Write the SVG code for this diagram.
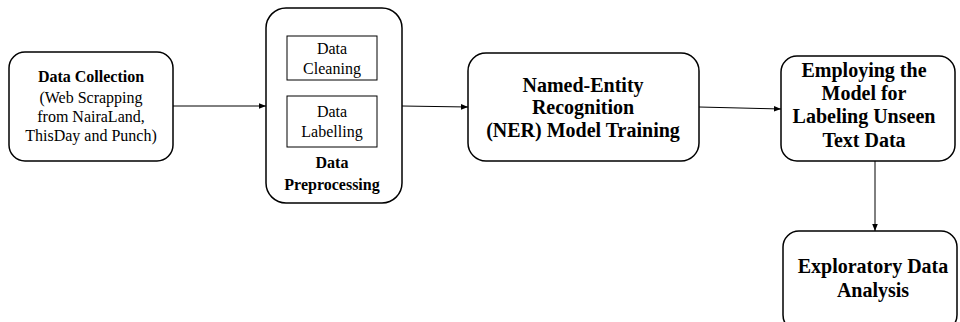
<svg xmlns="http://www.w3.org/2000/svg" width="960" height="322" viewBox="0 0 960 322">
<style>
.box{fill:#fff;stroke:#000;stroke-width:1.5}
.inner{fill:#fff;stroke:#000;stroke-width:1}
.t{font-family:"Liberation Serif","Times New Roman",serif;text-anchor:middle;fill:#000}
.s{font-size:16px}
.b{font-weight:bold}
.l{font-size:20px;font-weight:bold}
.c{stroke:#000;stroke-width:1;fill:none}
</style>
<defs>
<marker id="ah" viewBox="0 0 10 10" refX="10" refY="5" markerWidth="7" markerHeight="7" orient="auto" markerUnits="userSpaceOnUse">
<path d="M0,1 L10,5 L0,9 Z" fill="#000"/>
</marker>
</defs>
<rect width="960" height="322" fill="#fff"/>
<g id="connectors">
<line class="c" x1="173" y1="106" x2="266" y2="106" marker-end="url(#ah)"/>
<line class="c" x1="402" y1="106" x2="468" y2="107" marker-end="url(#ah)"/>
<line class="c" x1="699" y1="107" x2="781" y2="109" marker-end="url(#ah)"/>
<line class="c" x1="875" y1="161" x2="875" y2="231" stroke="#666" marker-end="url(#ah)"/>
</g>
<g id="data-collection">
<rect class="box" x="9" y="52" width="164" height="109" rx="16"/>
<text class="t s b" x="91" y="82">Data Collection</text>
<text class="t s" x="91" y="103">(Web Scrapping</text>
<text class="t s" x="91" y="122">from NairaLand,</text>
<text class="t s" x="91" y="141">ThisDay and Punch)</text>
</g>
<g id="data-preprocessing">
<rect class="box" x="266" y="8" width="136" height="195" rx="20"/>
<text class="t s b" x="332" y="168">Data</text>
<text class="t s b" x="332" y="190">Preprocessing</text>
</g>
<g id="data-cleaning">
<rect class="inner" x="287" y="36" width="90" height="44"/>
<text class="t s" x="332" y="54">Data</text>
<text class="t s" x="332" y="74">Cleaning</text>
</g>
<g id="data-labelling">
<rect class="inner" x="287" y="96" width="90" height="51"/>
<text class="t s" x="332" y="117">Data</text>
<text class="t s" x="332" y="137">Labelling</text>
</g>
<g id="ner-training">
<rect class="box" x="468" y="53" width="231" height="108" rx="18"/>
<text class="t l" x="583" y="92">Named-Entity</text>
<text class="t l" x="583" y="114">Recognition</text>
<text class="t l" x="583" y="137">(NER) Model Training</text>
</g>
<g id="employing-model">
<rect class="box" x="781" y="56" width="174" height="105" rx="16"/>
<text class="t l" x="864" y="77">Employing the</text>
<text class="t l" x="864" y="100">Model for</text>
<text class="t l" x="864" y="123">Labeling Unseen</text>
<text class="t l" x="864" y="147">Text Data</text>
</g>
<g id="eda">
<rect class="box" x="783" y="231" width="174" height="100" rx="16"/>
<text class="t l" x="873" y="273">Exploratory Data</text>
<text class="t l" x="873" y="297">Analysis</text>
</g>
</svg>
